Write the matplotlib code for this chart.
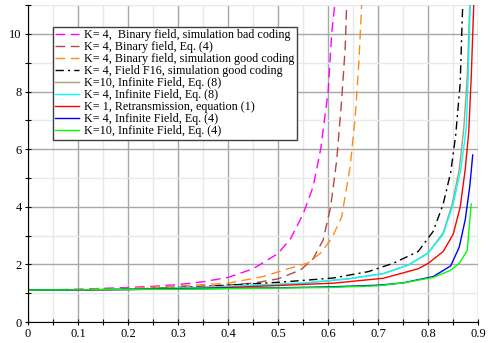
import matplotlib
matplotlib.use("Agg")
import matplotlib.pyplot as plt
from matplotlib.ticker import MultipleLocator

plt.rcParams['font.family'] = ['Liberation Serif', 'DejaVu Serif']
plt.rcParams['font.size'] = 9

# curves
mag_x = [0, 0.05, 0.1, 0.15, 0.2, 0.25, 0.3, 0.35, 0.4, 0.45, 0.5, 0.525, 0.55, 0.57, 0.585, 0.6, 0.607, 0.613]
mag_y = [1.11, 1.12, 1.14, 1.17, 1.2, 1.24, 1.3, 1.4, 1.55, 1.85, 2.38, 2.9, 3.75, 4.7, 6.0, 8.0, 10.0, 11.0]

brown_x = [0, 0.1, 0.2, 0.3, 0.35, 0.45, 0.5, 0.545, 0.57, 0.59, 0.605, 0.617, 0.627, 0.634, 0.637]
brown_y = [1.11, 1.12, 1.15, 1.2, 1.23, 1.35, 1.5, 1.81, 2.2, 2.85, 4.0, 5.6, 7.7, 9.5, 11.0]

orange_x = [0, 0.1, 0.2, 0.3, 0.4, 0.47, 0.52, 0.56, 0.585, 0.607, 0.627, 0.644, 0.654, 0.661, 0.667]
orange_y = [1.11, 1.13, 1.17, 1.25, 1.35, 1.58, 1.85, 2.05, 2.4, 2.9, 3.65, 5.4, 7.1, 8.9, 11.0]

f16_x = [0, 0.1, 0.2, 0.3, 0.4, 0.5, 0.56, 0.61, 0.68, 0.73, 0.78, 0.81, 0.83, 0.845, 0.855, 0.864, 0.867, 0.869]
f16_y = [1.11, 1.12, 1.14, 1.2, 1.28, 1.38, 1.46, 1.53, 1.75, 2.04, 2.45, 3.15, 4.1, 5.2, 6.5, 8.3, 10.0, 11.0]

k10eq8_x = [0, 0.1, 0.2, 0.3, 0.4, 0.5, 0.55, 0.64, 0.71, 0.76, 0.8, 0.83, 0.848, 0.862, 0.871, 0.878, 0.883]
k10eq8_y = [1.11, 1.12, 1.14, 1.18, 1.24, 1.31, 1.35, 1.5, 1.68, 1.98, 2.4, 3.1, 4.1, 5.3, 6.7, 8.5, 11.0]

k4eq8_x = [0, 0.1, 0.2, 0.3, 0.4, 0.5, 0.55, 0.64, 0.71, 0.76, 0.8, 0.83, 0.85, 0.865, 0.876, 0.88, 0.884]
k4eq8_y = [1.11, 1.12, 1.14, 1.18, 1.24, 1.31, 1.35, 1.5, 1.68, 1.98, 2.4, 3.05, 4.1, 5.3, 6.7, 8.5, 11.0]

k1_x = [0, 0.1, 0.2, 0.3, 0.4, 0.5, 0.61, 0.71, 0.78, 0.8, 0.83, 0.85, 0.864, 0.874, 0.881, 0.886, 0.891]
k1_y = [1.11, 1.12, 1.13, 1.16, 1.2, 1.27, 1.35, 1.52, 1.85, 2.04, 2.45, 3.05, 4.0, 5.3, 6.6, 8.5, 11.0]

k4eq4_x = [0, 0.1, 0.2, 0.3, 0.4, 0.5, 0.6, 0.7, 0.75, 0.81, 0.845, 0.862, 0.874, 0.883, 0.889]
k4eq4_y = [1.11, 1.12, 1.13, 1.15, 1.17, 1.19, 1.22, 1.28, 1.36, 1.58, 1.95, 2.6, 3.55, 4.7, 5.8]

k10eq4_x = [0, 0.1, 0.2, 0.3, 0.4, 0.5, 0.6, 0.7, 0.75, 0.81, 0.845, 0.862, 0.878, 0.886]
k10eq4_y = [1.11, 1.12, 1.13, 1.14, 1.16, 1.18, 1.2, 1.26, 1.36, 1.55, 1.8, 2.04, 2.48, 4.1]

xtick_labels = ['0', '0.1', '0.2', '0.3', '0.4', '0.5', '0.6', '0.7', '0.8', '0.9']

dash = (0, (7, 4))

fig = plt.figure(figsize=(4.91, 3.43), dpi=100)
ax = fig.add_axes([0.057, 0.061, 0.917, 0.924])

ax.plot(mag_x, mag_y, color='#ff00ff', lw=1, ls=dash, label='K= 4,  Binary field, simulation bad coding')
ax.plot(brown_x, brown_y, color='#b04848', lw=1, ls=dash, label='K= 4, Binary field, Eq. (4)')
ax.plot(orange_x, orange_y, color='#ff8c1a', lw=1, ls=dash, label='K= 4, Binary field, simulation good coding')
ax.plot(f16_x, f16_y, color='black', lw=1, ls=(0, (6, 3, 1.5, 3)), label='K= 4, Field F16, simulation good coding')
ax.plot(k10eq8_x, k10eq8_y, color='#a8a070', lw=1, label='K=10, Infinite Field, Eq. (8)')
ax.plot(k4eq8_x, k4eq8_y, color='#00ffff', lw=1, label='K= 4, Infinite Field, Eq. (8)')
ax.plot(k1_x, k1_y, color='#ff0000', lw=1, label='K= 1, Retransmission, equation (1)')
ax.plot(k4eq4_x, k4eq4_y, color='#0000ff', lw=1, label='K= 4, Infinite Field, Eq. (4)')
ax.plot(k10eq4_x, k10eq4_y, color='#00ff00', lw=1, label='K=10, Infinite Field, Eq. (4)')

ax.set_xlim(0, 0.9)
ax.set_ylim(0, 11)
ax.set_xticks([i * 0.1 for i in range(10)])
ax.set_xticklabels(xtick_labels)
ax.xaxis.set_minor_locator(MultipleLocator(0.05))
ax.yaxis.set_major_locator(MultipleLocator(2))
ax.yaxis.set_minor_locator(MultipleLocator(1))

ax.grid(which='major', color='#a8a8a8', lw=1)
ax.grid(which='minor', color='#e8e8e8', lw=1)
ax.set_axisbelow(True)
for s in ['top', 'right']:
    ax.spines[s].set_visible(False)
ax.tick_params(which='both', direction='inout', length=5, width=0.8, pad=2)
ax.tick_params(which='minor', length=4)

leg = ax.legend(loc='upper left', bbox_to_anchor=(0.055, 0.932), fontsize=8.7, labelspacing=0.0,
                handlelength=2.0, handletextpad=0.4, borderpad=0.2, borderaxespad=0,
                fancybox=False, framealpha=1)
leg.get_frame().set_edgecolor('#404040')
leg.get_frame().set_linewidth(1)

fig.savefig('out.png', dpi=100)
